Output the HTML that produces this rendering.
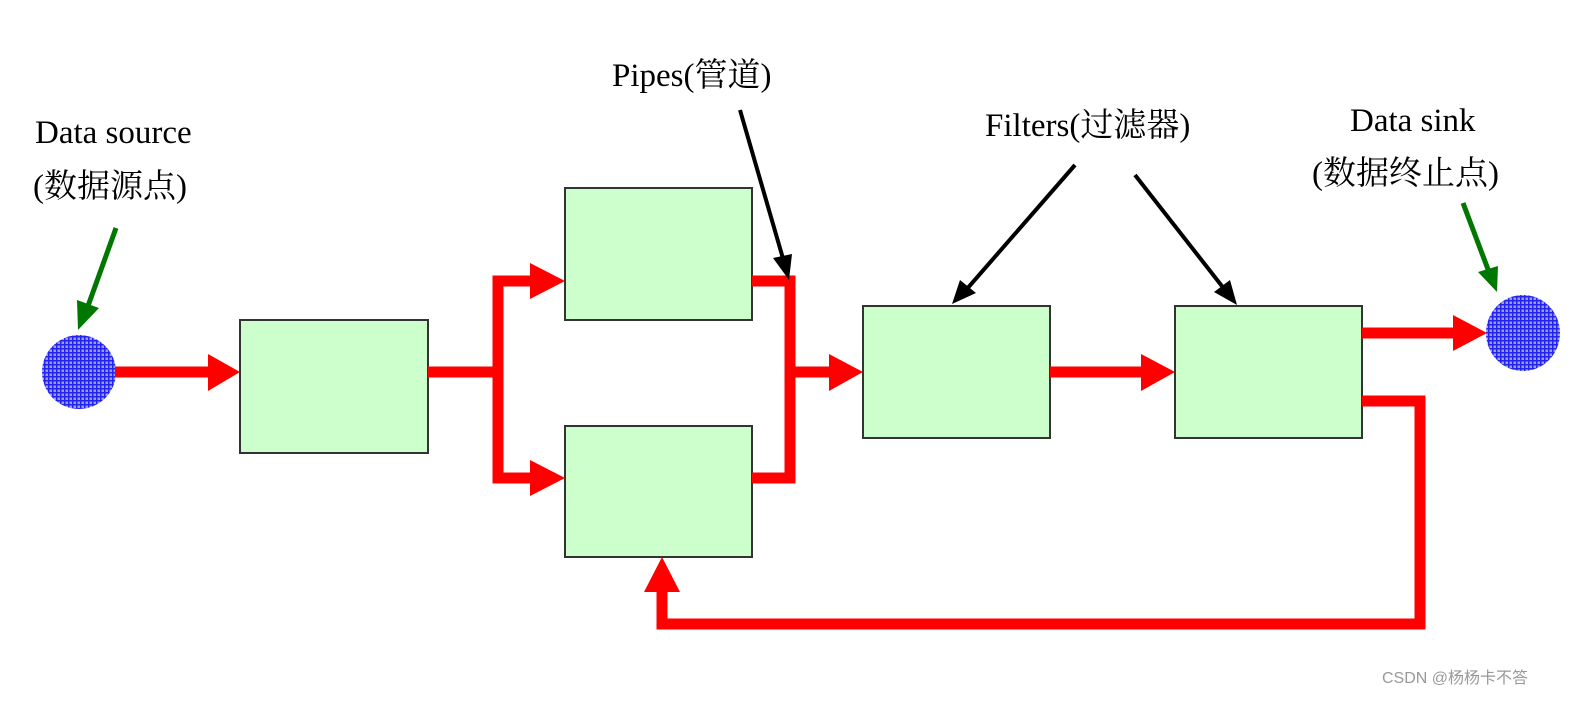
<!DOCTYPE html>
<html><head><meta charset="utf-8"><style>
html,body{margin:0;padding:0;background:#fff;}
svg text{font-family:"Liberation Serif","Noto Serif CJK SC","Noto Sans CJK SC",serif;fill:#000;}
</style></head><body>
<svg width="1573" height="696" viewBox="0 0 1573 696" xmlns="http://www.w3.org/2000/svg">
<defs>
<pattern id="grid" width="4" height="4" patternUnits="userSpaceOnUse">
<rect width="4" height="4" fill="#9b9bff"/>
<rect width="4" height="1.5" fill="#2323ee"/>
<rect width="1.5" height="4" fill="#2323ee"/>
</pattern>
</defs>
<!-- boxes -->
<g fill="#ccffcc" stroke="#333" stroke-width="2">
<rect x="240" y="320" width="188" height="133"/>
<rect x="565" y="188" width="187" height="132"/>
<rect x="565" y="426" width="187" height="131"/>
<rect x="863" y="306" width="187" height="132"/>
<rect x="1175" y="306" width="187" height="132"/>
</g>
<!-- circles -->
<ellipse cx="79" cy="372" rx="37" ry="37" fill="url(#grid)"/>
<ellipse cx="1523" cy="333" rx="37" ry="38" fill="url(#grid)"/>
<!-- red pipes -->
<g stroke="#ff0000" stroke-width="11" fill="none" stroke-linejoin="miter">
<line x1="115" y1="372" x2="212" y2="372"/>
<line x1="428" y1="372" x2="498" y2="372"/>
<polyline points="533,281 498,281 498,478 533,478"/>
<polyline points="752,281 790,281 790,478 752,478"/>
<line x1="790" y1="372" x2="834" y2="372"/>
<line x1="1050" y1="372" x2="1146" y2="372"/>
<line x1="1362" y1="333" x2="1458" y2="333"/>
<polyline points="1362,401 1420,401 1420,624 662,624 662,588"/>
</g>
<g fill="#ff0000">
<polygon points="208,354 240,372 208,391"/>
<polygon points="530,263 565,281 530,299"/>
<polygon points="530,460 565,478 530,496"/>
<polygon points="829,354 863,372 829,391"/>
<polygon points="1141,354 1175,372 1141,391"/>
<polygon points="1453,315 1487,333 1453,351"/>
<polygon points="644,592 662,557 680,592"/>
</g>
<!-- black arrows -->
<g stroke="#000" stroke-width="4">
<line x1="740" y1="110" x2="784" y2="262"/>
<line x1="1075" y1="165" x2="966" y2="290"/>
<line x1="1135" y1="175" x2="1225" y2="290"/>
</g>
<g fill="#000">
<polygon points="789,280 773,258 792,254"/>
<polygon points="952,304 960,280 976,293"/>
<polygon points="1237,305 1214,292 1230,280"/>
</g>
<!-- green arrows -->
<g stroke="#007700" stroke-width="5">
<line x1="116" y1="228" x2="88" y2="306"/>
<line x1="1463" y1="203" x2="1489" y2="272"/>
</g>
<g fill="#007700">
<polygon points="78,330 77,300 99,308"/>
<polygon points="1497,292 1478,272 1498,266"/>
</g>
<!-- labels -->
<g font-size="33">
<text x="35" y="143">Data source</text>
<text x="33" y="197">(数据源点)</text>
<text x="612" y="86">Pipes(管道)</text>
<text x="985" y="136">Filters(过滤器)</text>
<text x="1350" y="131">Data sink</text>
<text x="1312" y="184">(数据终止点)</text>
</g>
<text x="1382" y="683" font-size="16" fill="#999" style="font-family:'Liberation Sans','Noto Sans CJK SC',sans-serif;fill:#999">CSDN @杨杨卡不答</text>
</svg>
</body></html>
